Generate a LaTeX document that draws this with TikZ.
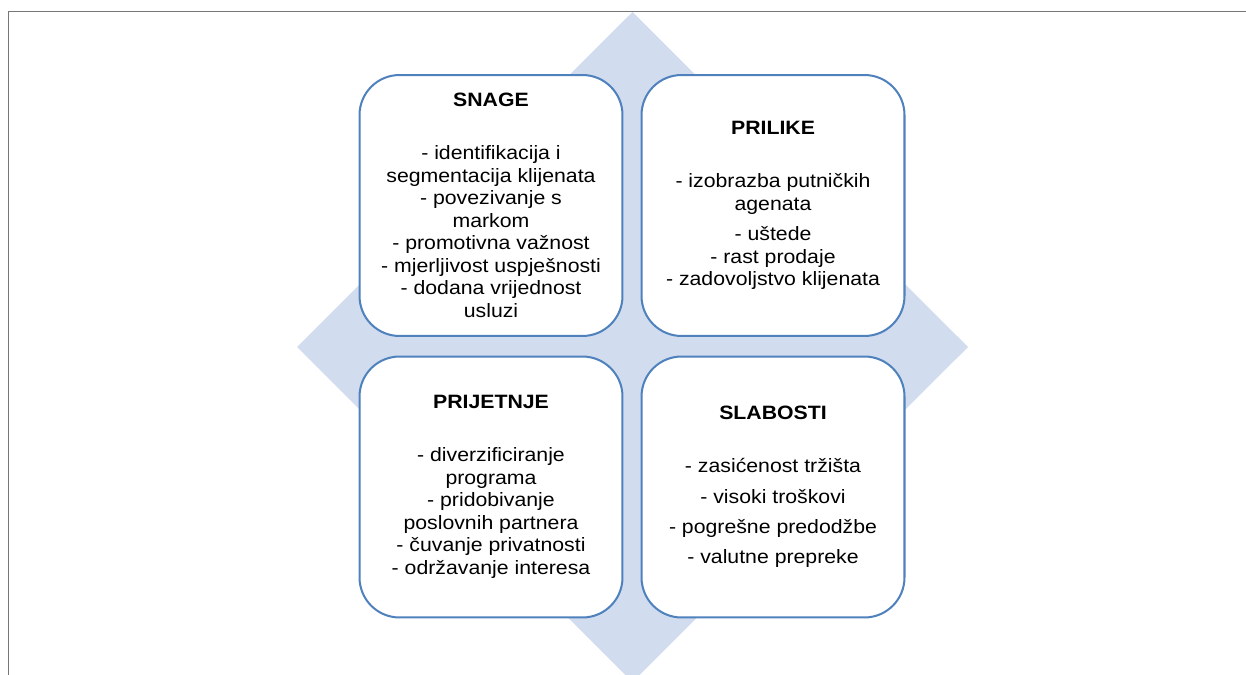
\documentclass[tikz,border=0pt]{standalone}
\usepackage{fontspec}
\newfontfamily\swotfont[FakeStretch=1.1]{Liberation Sans}
\definecolor{boxblue}{HTML}{4F81BD}
\definecolor{diamondblue}{HTML}{D1DDEF}
\definecolor{framegray}{HTML}{767676}

\begin{document}
\begin{tikzpicture}[x=0.02cm, y=-0.02cm,
    swot/.style={draw=boxblue, line width=1.15pt, fill=white, rounded corners=0.8cm,
        minimum width=5.26cm, minimum height=5.22cm, inner sep=0pt, align=center,
        font=\swotfont\fontsize{11pt}{12.8pt}\selectfont}]
    \useasboundingbox (0,0) rectangle (1246,675);
    \clip (0,0) rectangle (1246,675);

    % Background diamond
    \fill[diamondblue] (632.5,12) -- (968,347) -- (632.5,682) -- (297,347) -- cycle;

    % Frame
    \draw[framegray, line width=0.6pt] (8.5,675) -- (8.5,11.5) -- (1246,11.5);

    % Quadrants
    \node[swot] (snage) at (491,205.5) {\textbf{SNAGE}\\[17.4pt]
        - identifikacija i\\ segmentacija klijenata\\ - povezivanje s\\ markom\\
        - promotivna važnost\\ - mjerljivost uspješnosti\\ - dodana vrijednost\\ usluzi};
    \node[swot] (prilike) at (773,205.5) {\textbf{PRILIKE}\\[17.4pt]
        - izobrazba putničkih\\ agenata\\[4.5pt] - uštede\\ - rast prodaje\\ - zadovoljstvo klijenata};
    \node[swot] (prijetnje) at (491,487) {\textbf{PRIJETNJE}\\[17.4pt]
        - diverzificiranje\\ programa\\ - pridobivanje\\ poslovnih partnera\\
        - čuvanje privatnosti\\ - održavanje interesa};
    \node[swot] (slabosti) at (773,487) {\textbf{SLABOSTI}\\[17.4pt]
        - zasićenost tržišta\\[4.5pt] - visoki troškovi\\[4.5pt] - pogrešne predodžbe\\[4.5pt] - valutne prepreke};
\end{tikzpicture}
\end{document}
